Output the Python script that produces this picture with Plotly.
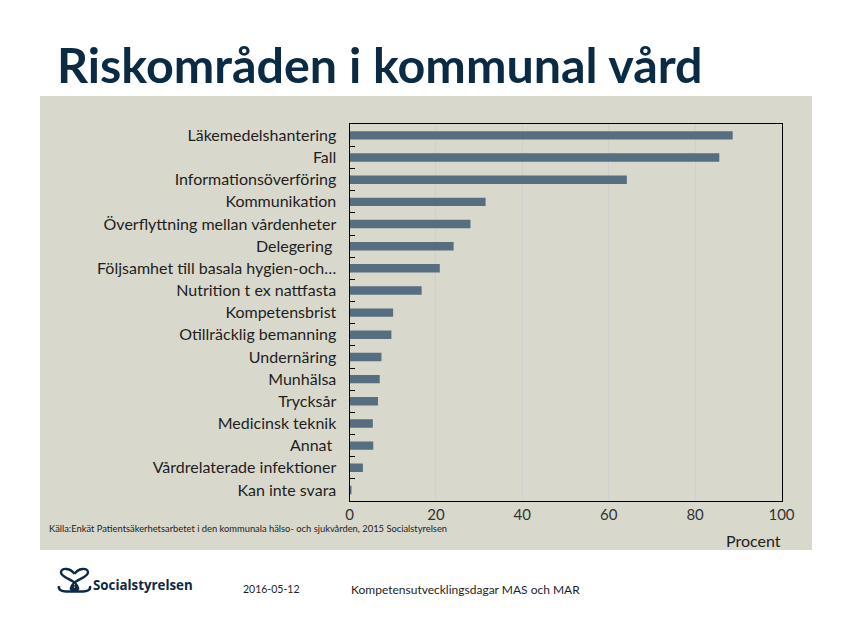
import plotly.graph_objects as go

categories = [
    "Läkemedelshantering", "Fall", "Informationsöverföring", "Kommunikation",
    "Överflyttning mellan vårdenheter", "Delegering ", "Följsamhet till basala hygien-och…",
    "Nutrition t ex nattfasta", "Kompetensbrist", "Otillräcklig bemanning", "Undernäring",
    "Munhälsa", "Trycksår", "Medicinsk teknik", "Annat ", "Vårdrelaterade infektioner",
    "Kan inte svara",
]
values = [88.7, 85.6, 64.2, 31.5, 28.0, 24.1, 20.9, 16.7, 10.1, 9.7, 7.4, 7.0, 6.6, 5.4, 5.5, 3.1, 0.3]
x_ticks = [0, 20, 40, 60, 80, 100]

W, H = 855, 623
def px(x): return x / W
def py(y): return 1 - y / H

LABEL_FONT = "Lato"
TEXT = "#1e1e1e"
NAVY = "#0b2a44"

fig = go.Figure(go.Bar(
    x=values, y=categories, orientation="h",
    marker=dict(color="#566e80", line=dict(width=0)),
    hoverinfo="x+y",
))

fig.update_layout(
    width=W, height=H,
    margin=dict(l=0, r=0, t=0, b=0, pad=0),
    paper_bgcolor="white", plot_bgcolor="white",
    showlegend=False, bargap=0.62,
    font=dict(family=LABEL_FONT, color=TEXT),
    xaxis=dict(
        domain=[px(349.5), px(781.5)], range=[0, 100], automargin=False,
        tickvals=x_ticks, ticktext=[str(v) for v in x_ticks],
        showgrid=True, gridcolor="#cfcfcf", gridwidth=1,
        showline=True, linecolor="black", linewidth=1, mirror=True,
        ticks="", tickfont=dict(size=15, color="#333333", family=LABEL_FONT),
        zeroline=False, fixedrange=True,
    ),
    yaxis=dict(
        domain=[py(501), py(124.3)], automargin=False,
        categoryorder="array", categoryarray=categories, autorange="reversed",
        showline=True, linecolor="black", linewidth=1, mirror=True,
        ticks="inside", ticklen=5, tickcolor="black", tickson="boundaries",
        tickfont=dict(size=16, color=TEXT, family=LABEL_FONT),
        ticklabelstandoff=9, showgrid=False, fixedrange=True,
    ),
)

# grey slide panel
fig.add_shape(type="rect", xref="paper", yref="paper",
              x0=px(40), x1=px(812), y0=py(550), y1=py(96),
              fillcolor="#d9d8cc", line=dict(width=0), layer="below")

# title
fig.add_annotation(text="<b>Riskområden i kommunal vård</b>", xref="paper", yref="paper",
                   x=px(55), y=py(64.5), xanchor="left", yanchor="middle", showarrow=False,
                   font=dict(size=48.4, color=NAVY, family="Lato"))

# axis title
fig.add_annotation(text="Procent", xref="paper", yref="paper",
                   x=px(753), y=py(540), xanchor="center", yanchor="middle", showarrow=False,
                   font=dict(size=16, color=TEXT, family=LABEL_FONT))

# source
fig.add_annotation(text="Källa:Enkät Patientsäkerhetsarbetet i den kommunala hälso- och sjukvården, 2015 Socialstyrelsen",
                   xref="paper", yref="paper", x=px(47), y=py(528), xanchor="left", yanchor="middle",
                   showarrow=False, font=dict(size=9.35, color=TEXT, family=LABEL_FONT))

# footer
fig.add_annotation(text="<b>Socialstyrelsen</b>", xref="paper", yref="paper",
                   x=px(91), y=py(585), xanchor="left", yanchor="middle", showarrow=False,
                   font=dict(size=13.3, color=NAVY, family="Open Sans"))
fig.add_annotation(text="2016-05-12", xref="paper", yref="paper",
                   x=px(241), y=py(589), xanchor="left", yanchor="middle", showarrow=False,
                   font=dict(size=10.5, color=TEXT, family=LABEL_FONT))
fig.add_annotation(text="Kompetensutvecklingsdagar MAS och MAR", xref="paper", yref="paper",
                   x=px(349), y=py(589), xanchor="left", yanchor="middle", showarrow=False,
                   font=dict(size=12, color=TEXT, family=LABEL_FONT))

# logo (approximation of the emblem: two mirrored S forming a heart, with a base line)
def P(x, y): return f"{px(x):.5f},{py(y):.5f}"
logo_paths = [
    f"M {P(74.5,574)} C {P(71,568)} {P(61,567)} {P(61,572.5)} C {P(61,577)} {P(71,579)} {P(75,583)} "
    f"C {P(79,587)} {P(79,590)} {P(76,590)} C {P(73,590)} {P(72,587)} {P(74,585)}",
    f"M {P(74.5,574)} C {P(78,568)} {P(88,567)} {P(88,572.5)} C {P(88,577)} {P(78,579)} {P(74,583)} "
    f"C {P(70,587)} {P(70,590)} {P(73,590)} C {P(76,590)} {P(77,587)} {P(75,585)}",
    f"M {P(59,586)} C {P(58,590)} {P(62,591.5)} {P(66,591.5)} L {P(83,591.5)} C {P(87,591.5)} {P(91,590)} {P(90,586)}",
]
for d in logo_paths:
    fig.add_shape(type="path", path=d, xref="paper", yref="paper",
                  line=dict(color=NAVY, width=2.4))

fig.write_html("out.html", config={"displayModeBar": False},
               post_script="document.body.style.margin='0';document.body.style.overflow='hidden';")
